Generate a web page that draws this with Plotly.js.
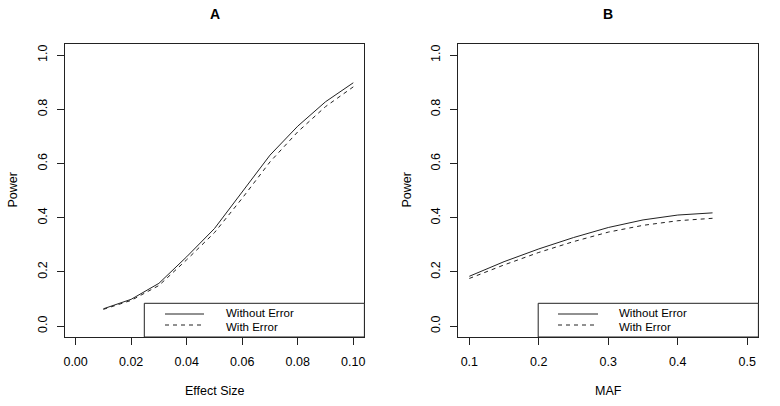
<!DOCTYPE html>
<html>
<head>
<meta charset="utf-8">
<script src="https://cdn.plot.ly/plotly-3.0.1.min.js"></script>
<style>html,body{margin:0;padding:0;background:#fff;}#chart{width:780px;height:406px;}</style>
</head>
<body>
<div id="chart"></div>
<script>
// Panel A: power vs effect size
const effectSize = [0.01, 0.02, 0.03, 0.04, 0.05, 0.06, 0.07, 0.08, 0.09, 0.10];
const powerA_noError = [0.064, 0.099, 0.158, 0.256, 0.36, 0.497, 0.631, 0.738, 0.828, 0.898];
const powerA_withError = [0.062, 0.095, 0.150, 0.245, 0.345, 0.472, 0.606, 0.717, 0.810, 0.883];

// Panel B: power vs MAF
const maf = [0.10, 0.15, 0.20, 0.25, 0.30, 0.35, 0.40, 0.45];
const powerB_noError = [0.184, 0.238, 0.285, 0.327, 0.364, 0.392, 0.410, 0.418];
const powerB_withError = [0.176, 0.226, 0.272, 0.312, 0.347, 0.372, 0.389, 0.398];

const seriesNames = ["Without Error", "With Error"];
const panelTitles = ["A", "B"];
const xTitles = ["Effect Size", "MAF"];
const yTitle = "Power";
const xTicksA = [0, 0.02, 0.04, 0.06, 0.08, 0.10];
const xTickTextA = ["0.00", "0.02", "0.04", "0.06", "0.08", "0.10"];
const xTicksB = [0.1, 0.2, 0.3, 0.4, 0.5];
const xTickTextB = ["0.1", "0.2", "0.3", "0.4", "0.5"];
const yTicks = [0, 0.2, 0.4, 0.6, 0.8, 1.0];
const yTickText = ["0.0", "0.2", "0.4", "0.6", "0.8", "1.0"];

const W = 780, H = 406;
const px = v => v / W;
const py = v => 1 - v / H;
const FONT = "Liberation Sans, Arial, Helvetica, sans-serif";
const INK = "#222";

const solid = {color: INK, width: 1, dash: "solid"};
const dashed = {color: INK, width: 1, dash: "4px,4px"};

const traces = [
  {x: effectSize, y: powerA_noError, xaxis: "x", yaxis: "y", mode: "lines", line: solid, name: seriesNames[0], showlegend: false},
  {x: effectSize, y: powerA_withError, xaxis: "x", yaxis: "y", mode: "lines", line: dashed, name: seriesNames[1], showlegend: false},
  {x: maf, y: powerB_noError, xaxis: "x2", yaxis: "y2", mode: "lines", line: solid, name: seriesNames[0], showlegend: false},
  {x: maf, y: powerB_withError, xaxis: "x2", yaxis: "y2", mode: "lines", line: dashed, name: seriesNames[1], showlegend: false}
];

const yDom = [1 - 337 / H, 1 - 44.3 / H];
const axisCommon = {
  showline: true, mirror: true, linecolor: INK, linewidth: 1,
  ticks: "outside", ticklen: 7, tickcolor: INK, tickwidth: 1,
  showgrid: false, zeroline: false, fixedrange: true,
  tickfont: {family: FONT, size: 12.5, color: "#000"}
};

const xaxisA = Object.assign({}, axisCommon, {domain: [px(64.5), px(364.4)], range: [-0.004, 0.104], tickmode: "array", tickvals: xTicksA, ticktext: xTickTextA, anchor: "y", ticklabelstandoff: 6});
const xaxisB = Object.assign({}, axisCommon, {domain: [px(458.2), px(758.4)], range: [0.084, 0.516], tickmode: "array", tickvals: xTicksB, ticktext: xTickTextB, anchor: "y2", ticklabelstandoff: 6});
const yaxisA = Object.assign({}, axisCommon, {domain: yDom, range: [-0.04, 1.04], tickmode: "array", tickvals: yTicks, ticktext: yTickText, tickangle: -90, anchor: "x", ticklabelstandoff: 5});
const yaxisB = Object.assign({}, axisCommon, {domain: yDom, range: [-0.04, 1.04], tickmode: "array", tickvals: yTicks, ticktext: yTickText, tickangle: -90, anchor: "x2", ticklabelstandoff: 5});

const annotations = [];
const shapes = [];
const txt = (text, x, y, opts) => Object.assign({text, x: px(x), y: py(y), xref: "paper", yref: "paper", showarrow: false, font: {family: FONT, size: 12.5, color: "#000"}, xanchor: "center", yanchor: "middle"}, opts || {});

// Titles
annotations.push(txt("<b>" + panelTitles[0] + "</b>", 214.5, 14, {font: {family: FONT, size: 14, color: "#000"}}));
annotations.push(txt("<b>" + panelTitles[1] + "</b>", 608.3, 14, {font: {family: FONT, size: 14, color: "#000"}}));
// Axis titles
annotations.push(txt(xTitles[0], 214.5, 391));
annotations.push(txt(xTitles[1], 608.3, 391));
annotations.push(txt(yTitle, 12, 190.5, {textangle: -90}));
annotations.push(txt(yTitle, 406, 190.5, {textangle: -90}));

// Legends (R-style boxes at bottom right)
const legFont = {family: FONT, size: 11.5, color: "#000"};
function legend(boxL, boxR, lineL, lineR, textL) {
  shapes.push({type: "rect", xref: "paper", yref: "paper", x0: px(boxL), x1: px(boxR), y0: py(337), y1: py(303.3), line: {color: INK, width: 1}, fillcolor: "#fff", layer: "above"});
  shapes.push({type: "line", xref: "paper", yref: "paper", x0: px(lineL), x1: px(lineR), y0: py(314), y1: py(314), line: solid});
  shapes.push({type: "line", xref: "paper", yref: "paper", x0: px(lineL), x1: px(lineR), y0: py(325), y1: py(325), line: dashed});
  annotations.push(txt(seriesNames[0], textL, 313.2, {xanchor: "left", font: legFont}));
  annotations.push(txt(seriesNames[1], textL, 326.6, {xanchor: "left", font: legFont}));
}
legend(144.3, 364.4, 165, 204, 224);
legend(538.2, 758.4, 558, 598, 617);

const layout = {
  width: W, height: H,
  margin: {l: 0, r: 0, t: 0, b: 0},
  paper_bgcolor: "#fff", plot_bgcolor: "#fff",
  showlegend: false,
  xaxis: xaxisA, yaxis: yaxisA, xaxis2: xaxisB, yaxis2: yaxisB,
  annotations, shapes,
  font: {family: FONT, size: 12, color: "#000"}
};

Plotly.newPlot("chart", traces, layout, {displayModeBar: false, staticPlot: true});
</script>
</body>
</html>
